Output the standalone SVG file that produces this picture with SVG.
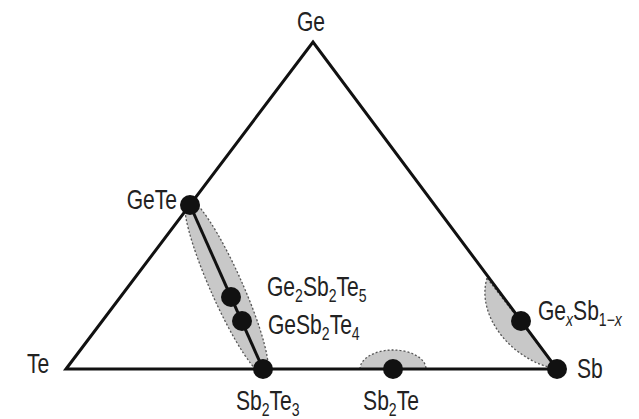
<svg xmlns="http://www.w3.org/2000/svg" width="639" height="419" viewBox="0 0 639 419">
<style>
.t{font-family:"Liberation Sans",Arial,sans-serif;font-size:27px;fill:#222}
.s{font-size:18px}
.edge{stroke:#111;stroke-width:3;fill:none;stroke-linejoin:miter}
.reg{fill:#c8c8c8;stroke:#555;stroke-width:1.3;stroke-dasharray:2 2}
.dot{fill:#111}
</style>
<rect width="639" height="419" fill="#fff"/>
<g id="regions">
<ellipse class="reg" cx="226.5" cy="287" rx="96" ry="16" transform="rotate(66 226.5 287)"/>
<path class="reg" d="M487 278 C476 315 510 358 552 368 L557 369 Z"/>
<path class="reg" d="M360 369 A33 19 0 0 1 426 369 Z"/>
</g>
<g id="connectors">
<path class="edge" d="M66 369 L313 42 L557 369 Z"/>
<line class="edge" x1="190" y1="205" x2="263" y2="369"/>
</g>
<g id="Ge"><text class="t" transform="translate(311 31) scale(0.78 1)" text-anchor="middle">Ge</text></g>
<g id="Te"><text class="t" transform="translate(27 373) scale(0.78 1)">Te</text></g>
<g id="Sb"><circle class="dot" cx="557" cy="369" r="10"/><text class="t" transform="translate(577 378) scale(0.78 1)">Sb</text></g>
<g id="GeTe"><circle class="dot" cx="190" cy="205" r="10"/><text class="t" transform="translate(177 209) scale(0.78 1)" text-anchor="end">GeTe</text></g>
<g id="Sb2Te3"><circle class="dot" cx="263" cy="369" r="10"/><text class="t" transform="translate(236 410) scale(0.78 1)">Sb<tspan class="s" dy="6">2</tspan><tspan dy="-6">Te</tspan><tspan class="s" dy="6">3</tspan></text></g>
<g id="Sb2Te"><circle class="dot" cx="393" cy="369" r="10"/><text class="t" transform="translate(391 410) scale(0.78 1)" text-anchor="middle">Sb<tspan class="s" dy="6">2</tspan><tspan dy="-6">Te</tspan></text></g>
<g id="Ge2Sb2Te5"><circle class="dot" cx="231" cy="297" r="10"/><text class="t" transform="translate(267 296) scale(0.78 1)">Ge<tspan class="s" dy="6">2</tspan><tspan dy="-6">Sb</tspan><tspan class="s" dy="6">2</tspan><tspan dy="-6">Te</tspan><tspan class="s" dy="6">5</tspan></text></g>
<g id="GeSb2Te4"><circle class="dot" cx="242" cy="321" r="10"/><text class="t" transform="translate(268 334) scale(0.78 1)">GeSb<tspan class="s" dy="6">2</tspan><tspan dy="-6">Te</tspan><tspan class="s" dy="6">4</tspan></text></g>
<g id="GexSb1-x"><circle class="dot" cx="521" cy="321" r="10"/><text class="t" transform="translate(538 320) scale(0.78 1)">Ge<tspan class="s" dy="6" font-style="italic">x</tspan><tspan dy="-6">Sb</tspan><tspan class="s" dy="6">1−<tspan font-style="italic">x</tspan></tspan></text></g>
</svg>
